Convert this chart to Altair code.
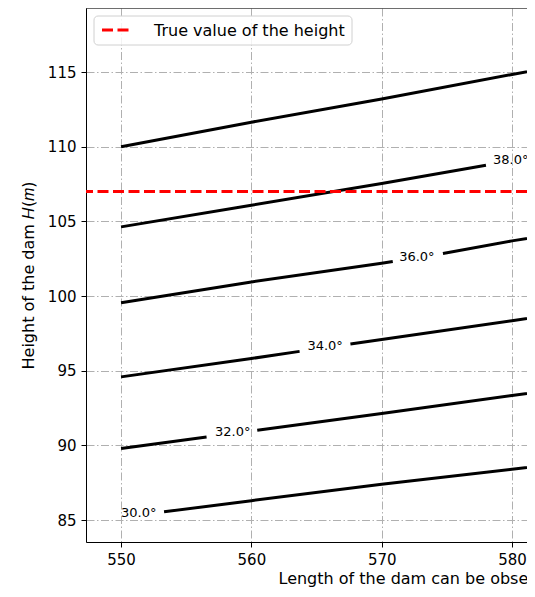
import altair as alt
import pandas as pd

# ---- data ----
angles = [40, 38, 36, 34, 32, 30]

line_40_L = [550, 560, 570, 580, 585]
line_40_H = [110.0, 111.65, 113.2, 114.85, 115.65]
line_40_seg = [0, 0, 0, 0, 0]

line_38_L = [550, 560, 570, 578.0, 581.9, 585]
line_38_H = [104.64, 106.09, 107.54, 108.77, 109.35, 109.8]
line_38_seg = [0, 0, 0, 0, 1, 1]

line_36_L = [550, 560, 570, 570.85, 574.7, 580, 585]
line_36_H = [99.55, 100.95, 102.2, 102.32, 102.86, 103.7, 104.4]
line_36_seg = [0, 0, 0, 0, 1, 1, 1]

line_34_L = [550, 560, 563.7, 567.6, 570, 580, 585]
line_34_H = [94.59, 95.82, 96.3, 96.8, 97.1, 98.35, 99.0]
line_34_seg = [0, 0, 0, 1, 1, 1, 1]

line_32_L = [550, 556.56, 560.45, 570, 580, 585]
line_32_H = [89.8, 90.57, 91.02, 92.14, 93.34, 93.95]
line_32_seg = [0, 0, 1, 1, 1, 1]

line_30_L = [553.3, 560, 570, 580, 585]
line_30_H = [85.55, 86.3, 87.4, 88.4, 88.95]
line_30_seg = [0, 0, 0, 0, 0]

label_text = ["30.0°", "32.0°", "34.0°", "36.0°", "38.0°"]
label_L = [551.36, 558.57, 565.66, 572.7, 579.9]
label_H = [85.44, 90.91, 96.69, 102.65, 109.1]

true_height = [107.0]
legend_label = "True value of the height"

x_ticks = [550, 560, 570, 580]
y_ticks = [85, 90, 95, 100, 105, 110, 115]

# ---- build tables ----
lines = {
    40: (line_40_L, line_40_H, line_40_seg),
    38: (line_38_L, line_38_H, line_38_seg),
    36: (line_36_L, line_36_H, line_36_seg),
    34: (line_34_L, line_34_H, line_34_seg),
    32: (line_32_L, line_32_H, line_32_seg),
    30: (line_30_L, line_30_H, line_30_seg),
}
rows = []
for a in angles:
    Ls, Hs, segs = lines[a]
    for L, H, s in zip(Ls, Hs, segs):
        rows.append({"L": L, "H": H, "key": f"{a}_{s}"})
df_lines = pd.DataFrame(rows)
df_labels = pd.DataFrame({"L": label_L, "H": label_H, "t": label_text})
df_true = pd.DataFrame({"H": true_height})
one = pd.DataFrame({"a": [0]})

FONT = "DejaVu Sans"
W, H = 441, 534

xscale = alt.Scale(domain=[547.31, 581.15], nice=False, zero=False)
yscale = alt.Scale(domain=[83.53, 119.3], nice=False, zero=False)

grid_dash = [8, 2.5, 1.5, 2.5]

xaxis = alt.Axis(
    values=x_ticks, format="d", title="Length of the dam can be observed 𝐿(𝑚)",
    titleX=192, titleY=41, titleAlign="left", titleBaseline="alphabetic",
    titleFontSize=16, titleFontWeight="normal", titleFont=FONT, titleColor="black",
    labelFontSize=15, labelFont=FONT, labelColor="black", labelPadding=5,
    tickSize=5, tickColor="black", domainColor="black",
    grid=True, gridColor="#b0b0b0", gridDash=grid_dash, gridWidth=1,
)
yaxis = alt.Axis(
    values=y_ticks, format="d", title="Height of the dam 𝐻(𝑚)",
    titleX=-58, titleY=267, titleAngle=-90, titleAlign="center", titleBaseline="middle",
    titleFontSize=16, titleFontWeight="normal", titleFont=FONT, titleColor="black",
    labelFontSize=15, labelFont=FONT, labelColor="black", labelPadding=5,
    tickSize=5, tickColor="black", domainColor="black",
    grid=True, gridColor="#b0b0b0", gridDash=grid_dash, gridWidth=1,
)

contours = alt.Chart(df_lines).mark_line(color="black", strokeWidth=3, clip=True).encode(
    x=alt.X("L:Q", scale=xscale, axis=xaxis),
    y=alt.Y("H:Q", scale=yscale, axis=yaxis),
    detail="key:N",
    order="L:Q",
)

labels = alt.Chart(df_labels).mark_text(
    font=FONT, fontSize=13, color="black", align="center", baseline="middle", clip=True
).encode(x=alt.X("L:Q", scale=xscale), y=alt.Y("H:Q", scale=yscale), text="t:N")

true_line = alt.Chart(df_true).mark_rule(
    color="red", strokeWidth=3, strokeDash=[11, 4.5]
).encode(y=alt.Y("H:Q", scale=yscale))

top_border = alt.Chart(one).mark_rule(color="black", strokeWidth=1).encode(
    x=alt.value(0), x2=alt.value(W + 20), y=alt.value(0)
)

legend_box = alt.Chart(one).mark_rect(
    fill="white", fillOpacity=0.85, stroke="#d0d0d0", strokeWidth=1, cornerRadius=4
).encode(x=alt.value(8), x2=alt.value(266), y=alt.value(8), y2=alt.value(37))

legend_sample = alt.Chart(one).mark_rule(
    color="red", strokeWidth=3, strokeDash=[11, 4.5]
).encode(x=alt.value(16), x2=alt.value(46), y=alt.value(22))

legend_text = alt.Chart(one).mark_text(
    font=FONT, fontSize=16, color="black", align="left", baseline="middle",
    text=legend_label,
).encode(x=alt.value(68), y=alt.value(22.5))

chart = alt.layer(
    contours, labels, true_line, top_border, legend_box, legend_sample, legend_text
).properties(
    width=W, height=H,
    autosize=alt.AutoSizeParams(type="none"),
    padding={"left": 78, "top": 0, "right": 0, "bottom": 45},
).configure_view(stroke="transparent", strokeWidth=0).configure(font=FONT)

chart.save("out.html", embed_options={"renderer": "svg", "actions": False})
